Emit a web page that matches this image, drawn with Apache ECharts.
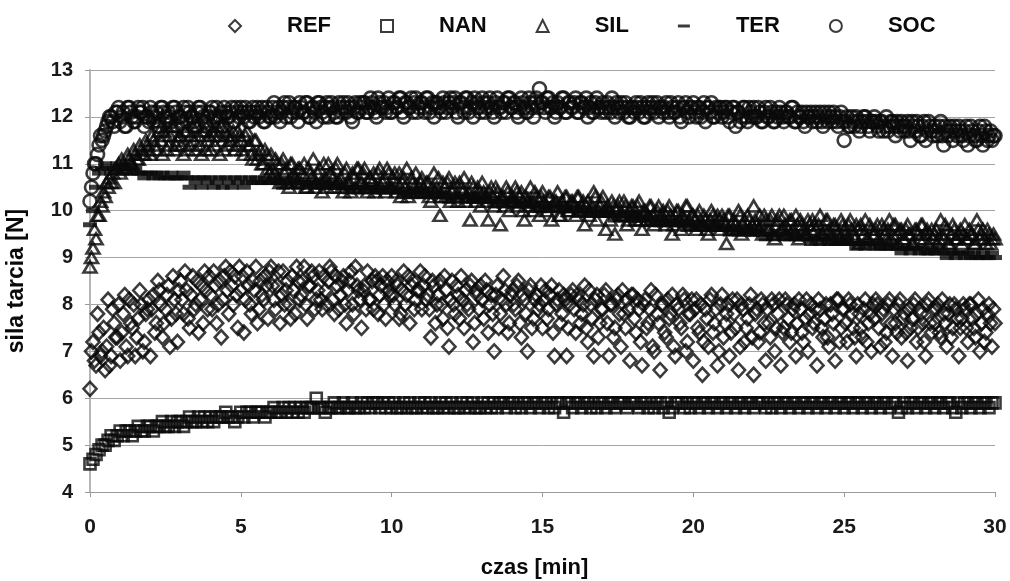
<!DOCTYPE html>
<html>
<head>
<meta charset="utf-8">
<script src="https://cdn.jsdelivr.net/npm/echarts@6/dist/echarts.min.js"></script>
<style>
html,body{margin:0;padding:0;background:#fff;}
#chart{width:1010px;height:581px;}
</style>
</head>
<body>
<div id="chart"></div>
<script>
// sampling interval of the measurement (min)
const SAMPLE_STEP = 0.1;

const seriesNames = ['REF', 'NAN', 'SIL', 'TER', 'SOC'];
const xTicks = [0, 5, 10, 15, 20, 25, 30];
const yTicks = [4, 5, 6, 7, 8, 9, 10, 11, 12, 13];

// REF readings at 0.0, 0.1, 0.2 ... min
const ref = [
6.2,7.2,6.7,7.4,7.0,6.6,8.1,6.9,7.6,7.3,
6.8,7.8,7.1,8.1,7.5,6.9,7.7,8.0,7.2,7.9,
6.9,8.2,7.6,8.3,7.3,7.9,8.4,7.7,8.1,7.2,
8.5,7.8,8.3,7.5,8.6,8.0,7.4,8.4,8.7,7.9,
8.2,8.7,7.6,8.5,8.1,8.8,7.8,8.4,8.6,7.5,
8.3,7.4,8.7,8.0,8.5,8.8,7.9,8.2,8.6,7.7,
8.8,8.1,8.4,7.6,8.7,8.3,8.0,8.6,7.8,8.5,
8.2,8.8,7.7,8.4,8.6,8.1,8.7,7.9,8.3,8.5,
8.7,7.8,8.4,8.2,8.6,7.6,8.5,8.0,8.8,8.3,
7.5,8.4,8.7,8.1,7.9,8.5,8.2,8.6,7.7,8.3,
8.6,8.0,8.4,7.8,8.7,8.2,7.6,8.5,8.1,8.3,
7.9,8.6,8.2,7.3,8.4,8.0,8.5,7.7,8.3,7.1,
8.5,7.8,8.2,8.6,7.5,8.0,8.4,7.2,8.3,7.9,
8.1,8.5,7.4,8.2,7.0,8.4,7.8,8.6,8.0,7.6,
8.3,7.9,8.5,7.3,8.1,7.0,8.4,7.7,8.2,8.0,
7.5,8.3,7.9,8.4,6.9,8.1,7.6,8.2,6.9,8.0,
8.3,7.4,8.1,7.8,8.4,7.2,8.0,6.9,8.2,7.6,
7.9,8.3,6.9,8.0,7.5,8.2,7.1,7.8,8.1,6.8,
8.2,7.4,7.9,6.7,8.1,7.6,8.3,7.0,7.8,6.6,
8.0,7.3,7.7,8.2,6.9,7.9,7.5,8.1,7.2,7.8,
6.8,8.1,7.4,6.5,7.9,7.1,8.2,7.6,6.7,8.0,
7.3,7.8,6.9,8.1,7.5,6.6,8.0,7.2,7.7,8.2,
6.5,7.9,7.4,8.0,6.8,7.6,8.1,7.0,7.8,6.7,
7.5,8.0,7.2,7.9,6.9,8.1,7.4,7.7,7.0,8.0,
7.6,6.7,7.9,7.3,8.0,7.1,7.8,6.8,8.1,7.5,
7.9,7.2,8.0,7.5,6.9,7.8,7.3,8.1,7.6,7.0,
7.7,8.0,7.1,7.9,7.4,8.1,6.9,7.6,8.0,7.3,
7.8,6.8,7.5,8.0,7.2,7.9,7.6,6.9,8.1,7.4,
7.6,8.0,7.3,7.8,7.1,8.0,7.5,7.9,6.9,7.7,
7.9,7.2,8.0,7.5,7.8,7.0,7.9,7.4,8.0,7.1,
7.6
];

// REF readings at 0.05, 0.15, 0.25 ... min
const refHalf = [
7.0,6.8,7.8,6.9,7.5,7.1,6.7,7.9,7.3,8.0,
7.4,8.2,6.9,7.6,8.0,7.3,8.3,7.0,7.8,8.1,
7.9,7.4,8.5,8.0,7.6,8.2,7.1,8.6,7.8,8.3,
8.1,8.7,7.7,8.2,7.9,8.5,8.1,7.6,8.3,8.6,
7.9,8.4,8.0,7.3,8.6,8.3,8.7,8.0,8.2,8.8,
8.6,8.1,8.4,7.8,8.3,7.6,8.5,8.1,8.4,8.7,
8.4,7.9,8.7,8.2,8.0,8.5,7.7,8.3,8.8,8.1,
8.5,8.0,8.4,8.7,7.9,8.3,8.1,8.6,8.0,8.8,
8.1,8.6,7.9,8.5,8.0,8.3,8.7,7.8,8.4,8.1,
8.3,7.9,8.1,8.5,8.6,7.8,8.4,8.0,8.5,8.2,
8.2,8.5,7.7,8.3,8.0,8.6,8.4,7.9,8.3,8.7,
8.4,8.1,7.9,8.5,7.6,8.2,8.0,8.6,7.5,8.1,
8.0,8.4,7.7,8.1,8.3,7.9,8.5,7.6,8.2,8.4,
7.7,8.3,8.0,7.8,8.2,7.5,8.1,8.3,7.4,8.2,
8.0,8.4,7.6,8.2,7.8,8.3,7.5,8.1,7.9,8.4,
8.1,7.7,8.2,7.4,8.0,8.3,7.8,8.1,7.5,8.2,
7.9,8.2,7.6,8.0,7.5,8.3,7.7,8.1,7.3,7.9,
8.2,7.6,8.0,7.3,8.1,7.8,8.3,7.5,7.9,8.2,
7.7,8.1,7.2,8.0,7.5,7.9,7.1,8.2,7.6,8.0,
7.4,8.1,7.8,7.1,8.0,7.6,8.2,7.0,7.8,8.1,
7.9,7.5,8.0,7.2,7.7,8.1,7.4,7.9,7.0,8.2,
7.6,8.0,7.4,7.8,8.1,7.1,7.9,7.5,8.0,7.3,
7.8,7.2,8.1,7.6,7.9,7.3,8.0,7.5,8.1,7.4,
8.1,7.7,7.4,8.0,7.6,7.9,7.2,8.1,7.8,7.5,
7.9,8.1,7.5,7.7,7.3,8.0,7.6,8.1,7.2,7.9,
7.6,8.1,7.8,7.3,8.0,7.5,7.9,7.2,7.8,8.0,
8.1,7.5,7.8,7.2,8.0,7.6,7.9,7.4,8.1,7.7,
7.4,7.9,7.7,8.1,7.5,7.8,7.2,8.0,7.6,7.9,
7.9,7.4,8.1,7.6,7.8,7.3,8.0,7.7,7.5,8.0,
7.5,8.0,7.7,7.3,8.1,7.6,7.2,7.8,7.6,7.9
];

const nan = [
4.6,4.7,4.8,4.9,5.0,5.0,5.1,5.2,5.1,5.2,
5.3,5.2,5.3,5.3,5.2,5.3,5.4,5.3,5.3,5.4,
5.4,5.3,5.4,5.4,5.5,5.4,5.4,5.5,5.4,5.5,
5.5,5.4,5.5,5.6,5.5,5.5,5.6,5.5,5.6,5.5,
5.6,5.5,5.6,5.6,5.6,5.7,5.6,5.6,5.5,5.6,
5.7,5.6,5.7,5.7,5.6,5.7,5.7,5.7,5.6,5.7,
5.7,5.8,5.7,5.7,5.8,5.7,5.8,5.7,5.8,5.7,
5.8,5.7,5.8,5.8,5.8,6.0,5.8,5.8,5.7,5.8,
5.8,5.9,5.8,5.8,5.9,5.8,5.8,5.9,5.8,5.8,
5.9,5.8,5.9,5.8,5.9,5.9,5.8,5.9,5.8,5.9,
5.8,5.9,5.8,5.8,5.9,5.8,5.9,5.8,5.8,5.9,
5.8,5.9,5.8,5.9,5.8,5.8,5.9,5.8,5.9,5.8,
5.9,5.8,5.8,5.9,5.8,5.9,5.8,5.9,5.8,5.8,
5.9,5.8,5.9,5.8,5.9,5.8,5.9,5.9,5.8,5.9,
5.9,5.8,5.9,5.8,5.9,5.9,5.8,5.9,5.9,5.8,
5.9,5.9,5.8,5.9,5.8,5.9,5.9,5.7,5.9,5.9,
5.8,5.9,5.9,5.8,5.9,5.9,5.8,5.9,5.8,5.9,
5.9,5.8,5.9,5.9,5.8,5.9,5.9,5.9,5.8,5.9,
5.9,5.9,5.8,5.9,5.9,5.8,5.9,5.8,5.9,5.9,
5.8,5.9,5.7,5.8,5.9,5.9,5.9,5.8,5.9,5.8,
5.9,5.9,5.8,5.9,5.9,5.8,5.9,5.9,5.8,5.9,
5.9,5.8,5.9,5.9,5.8,5.9,5.9,5.8,5.9,5.9,
5.8,5.9,5.9,5.9,5.8,5.9,5.8,5.9,5.9,5.8,
5.9,5.9,5.8,5.9,5.9,5.8,5.9,5.9,5.8,5.9,
5.9,5.8,5.9,5.9,5.8,5.9,5.9,5.8,5.9,5.9,
5.8,5.9,5.9,5.8,5.9,5.9,5.8,5.9,5.9,5.8,
5.9,5.9,5.8,5.9,5.9,5.8,5.9,5.9,5.7,5.8,
5.9,5.8,5.9,5.9,5.8,5.9,5.9,5.8,5.9,5.9,
5.8,5.9,5.9,5.8,5.9,5.9,5.8,5.7,5.9,5.8,
5.9,5.9,5.8,5.9,5.9,5.8,5.9,5.9,5.8,5.9,
5.9
];

// SIL readings at 0.0, 0.1, 0.2 ... min
const sil = [
8.8,9.2,9.4,9.9,10.1,10.3,10.5,10.6,10.6,10.9,
10.8,11.0,10.9,11.1,11.0,11.2,11.1,11.3,11.2,11.4,
11.2,11.5,11.3,11.7,11.2,11.6,11.4,11.8,11.3,11.5,
11.6,11.2,11.7,11.4,11.8,11.3,11.6,11.2,11.7,11.5,
11.3,11.6,11.8,11.2,11.5,11.7,11.4,11.6,11.3,11.7,
11.5,11.2,11.7,11.4,11.1,11.5,11.2,11.0,11.3,10.9,
11.2,10.8,11.0,10.6,11.1,10.9,10.5,11.0,10.7,10.9,
10.6,11.0,10.5,10.8,11.1,10.6,10.9,10.4,10.7,11.0,
10.8,10.5,11.0,10.7,10.4,10.9,10.6,10.8,10.5,10.9,
10.6,10.9,10.4,10.7,10.8,10.5,10.9,10.6,10.4,10.8,
10.5,10.8,10.6,10.3,10.7,10.9,10.4,10.6,10.8,10.5,
10.7,10.4,10.6,10.2,10.8,10.5,9.9,10.6,10.3,10.7,
10.4,10.6,10.2,10.5,10.7,10.3,9.8,10.5,10.2,10.4,
10.6,10.3,9.8,10.5,10.1,10.4,9.7,10.3,10.5,10.0,
10.3,10.5,10.1,10.4,9.8,10.2,10.5,10.0,10.3,9.9,
10.4,10.1,10.3,9.8,10.2,10.4,9.9,10.1,10.3,10.0,
10.2,9.9,10.3,10.1,9.7,10.2,10.0,10.4,9.8,10.1,
10.3,9.6,10.0,10.2,9.5,10.1,9.9,10.2,9.7,10.0,
10.1,9.8,10.2,9.6,10.0,9.9,10.1,9.7,10.0,9.8,
10.0,9.7,10.1,9.5,9.9,10.0,9.6,9.8,10.1,9.7,
9.9,9.6,10.0,9.7,9.8,9.5,10.0,9.7,9.9,9.6,
9.8,9.3,9.9,9.6,9.7,10.0,9.5,9.8,9.9,9.6,
10.1,9.7,9.9,9.5,9.8,9.6,9.9,9.4,9.8,9.6,
9.9,9.5,9.8,9.6,9.9,9.4,9.7,9.5,9.8,9.6,
9.7,9.4,9.9,9.5,9.8,9.6,9.4,9.7,9.5,9.8,
9.6,9.4,9.8,9.5,9.7,9.3,9.6,9.8,9.4,9.6,
9.5,9.7,9.3,9.6,9.4,9.8,9.5,9.7,9.3,9.6,
9.4,9.7,9.5,9.3,9.6,9.4,9.7,9.5,9.3,9.6,
9.5,9.3,9.8,9.4,9.6,9.3,9.7,9.4,9.5,9.3,
9.7,9.4,9.5,9.3,9.8,9.4,9.6,9.3,9.5,9.4,
9.4
];

// SIL readings at 0.05, 0.15, 0.25 ... min
const silHalf = [
9.0,9.6,9.9,10.2,10.4,10.6,10.7,10.8,10.9,11.0,
11.1,10.9,11.2,11.0,11.3,11.1,11.4,11.2,11.5,11.3,
11.6,11.4,11.9,11.5,11.7,11.3,11.6,11.8,11.4,11.6,
11.4,11.7,11.3,11.6,11.5,11.8,11.4,11.7,11.3,11.6,
11.7,11.4,11.6,11.8,11.3,11.6,11.5,11.7,11.4,11.6,
11.3,11.6,11.4,11.2,11.5,11.1,11.3,11.0,11.2,10.8,
10.9,11.1,10.7,11.0,10.8,10.6,11.0,10.8,10.6,10.9,
10.8,10.5,10.9,10.7,10.5,10.8,10.6,11.0,10.5,10.8,
10.7,10.9,10.6,10.5,10.8,10.6,10.4,10.7,10.9,10.6,
10.8,10.5,10.7,10.6,10.4,10.8,10.5,10.7,10.9,10.5,
10.7,10.4,10.8,10.6,10.5,10.3,10.7,10.5,10.4,10.6,
10.5,10.6,10.3,10.5,10.4,10.7,10.3,10.5,10.6,10.2,
10.5,10.3,10.6,10.4,10.2,10.4,10.6,10.3,10.5,10.1,
10.4,10.2,10.4,10.3,10.5,10.2,10.3,10.1,10.4,10.2,
10.2,10.4,10.3,10.0,10.3,10.1,10.2,10.4,10.1,10.3,
10.2,10.0,10.3,10.1,10.2,9.9,10.2,10.3,10.0,10.2,
10.1,10.3,10.0,10.2,10.1,9.9,10.1,10.3,10.0,10.2,
10.0,10.1,9.8,10.1,10.0,10.2,9.9,10.1,9.8,10.1,
9.9,10.1,9.8,10.0,9.8,10.1,9.9,9.8,10.1,9.9,
9.8,10.0,9.9,9.7,10.0,9.8,9.9,10.1,9.8,9.9,
9.8,9.9,9.7,9.9,9.6,9.8,9.9,9.7,9.8,9.9,
9.7,9.9,9.7,9.8,9.6,9.9,9.7,9.6,9.8,9.7,
9.8,9.6,9.7,9.9,9.6,9.8,9.5,9.7,9.9,9.6,
9.7,9.6,9.8,9.5,9.7,9.8,9.6,9.5,9.7,9.8,
9.6,9.7,9.5,9.6,9.8,9.5,9.7,9.6,9.4,9.7,
9.5,9.7,9.6,9.4,9.6,9.7,9.5,9.4,9.7,9.5,
9.6,9.4,9.7,9.5,9.6,9.4,9.7,9.5,9.6,9.4,
9.6,9.5,9.3,9.6,9.5,9.7,9.4,9.6,9.5,9.4,
9.6,9.4,9.5,9.7,9.3,9.5,9.6,9.4,9.6,9.5,
9.4,9.6,9.5,9.3,9.6,9.5,9.4,9.6,9.3,9.5
];

const ter = [
9.7,10.0,10.5,10.8,10.9,11.0,10.9,10.8,10.9,11.0,
10.9,10.8,10.9,10.9,10.8,10.9,10.8,10.8,10.7,10.8,
10.8,10.7,10.8,10.7,10.8,10.7,10.7,10.8,10.7,10.7,
10.7,10.8,10.7,10.5,10.7,10.6,10.7,10.5,10.7,10.6,
10.7,10.5,10.6,10.7,10.5,10.7,10.6,10.5,10.7,10.6,
10.7,10.5,10.6,10.7,10.6,10.7,10.6,10.6,10.7,10.6,
10.6,10.7,10.6,10.6,10.5,10.6,10.7,10.6,10.6,10.5,
10.6,10.6,10.5,10.6,10.6,10.5,10.6,10.5,10.6,10.5,
10.6,10.5,10.5,10.6,10.5,10.5,10.4,10.5,10.5,10.4,
10.5,10.4,10.5,10.5,10.4,10.5,10.4,10.4,10.5,10.4,
10.4,10.5,10.4,10.4,10.3,10.4,10.4,10.3,10.4,10.4,
10.3,10.4,10.3,10.4,10.3,10.3,10.4,10.3,10.3,10.2,
10.3,10.3,10.2,10.3,10.3,10.2,10.3,10.2,10.3,10.2,
10.2,10.3,10.2,10.2,10.1,10.2,10.2,10.1,10.2,10.2,
10.1,10.2,10.1,10.2,10.1,10.1,10.2,10.1,10.1,10.0,
10.1,10.1,10.0,10.1,10.1,10.0,10.1,10.0,10.0,10.1,
10.0,10.0,9.9,10.0,10.0,9.9,10.0,9.9,10.0,9.9,
9.9,10.0,9.9,9.9,9.8,9.9,9.9,9.8,9.9,9.9,
9.8,9.9,9.8,9.8,9.9,9.8,9.7,9.8,9.8,9.7,
9.8,9.7,9.8,9.7,9.7,9.8,9.7,9.7,9.6,9.7,
9.7,9.6,9.7,9.7,9.6,9.7,9.6,9.6,9.7,9.6,
9.6,9.6,9.5,9.6,9.6,9.5,9.6,9.5,9.6,9.5,
9.5,9.6,9.5,9.5,9.4,9.5,9.5,9.4,9.5,9.5,
9.4,9.5,9.4,9.5,9.4,9.4,9.5,9.4,9.4,9.3,
9.4,9.4,9.3,9.4,9.4,9.3,9.4,9.3,9.3,9.4,
9.3,9.4,9.3,9.3,9.2,9.3,9.3,9.2,9.3,9.3,
9.2,9.3,9.2,9.3,9.2,9.2,9.3,9.2,9.2,9.1,
9.2,9.2,9.1,9.2,9.2,9.1,9.2,9.1,9.1,9.2,
9.1,9.1,9.2,9.1,9.0,9.1,9.1,9.0,9.1,9.1,
9.0,9.1,9.0,9.1,9.0,9.0,9.1,9.0,9.0,9.1,
9.0
];

// SOC readings at 0.0, 0.1, 0.2 ... min
const soc = [
10.2,10.8,11.0,11.4,11.5,11.7,11.9,12.0,11.8,12.1,
11.9,12.1,11.8,12.2,12.0,11.9,12.2,12.1,11.8,12.0,
12.2,11.9,12.1,11.8,12.2,12.0,12.1,11.9,12.2,11.8,
12.0,12.2,11.9,12.1,12.0,11.8,12.2,12.1,11.9,12.0,
12.1,11.9,12.2,12.0,11.8,12.1,12.0,12.2,11.9,12.1,
12.2,12.0,12.1,11.9,12.2,12.1,12.0,12.2,11.9,12.1,
12.0,12.3,12.1,11.9,12.2,12.0,12.3,12.1,12.2,11.9,
12.2,12.1,12.3,12.0,12.2,11.9,12.3,12.1,12.2,12.0,
12.3,12.1,12.0,12.2,12.3,12.1,12.2,11.9,12.3,12.1,
12.2,12.3,12.1,12.4,12.2,12.0,12.3,12.2,12.1,12.4,
12.1,12.3,12.2,12.4,12.0,12.3,12.2,12.1,12.4,12.2,
12.3,12.1,12.4,12.2,12.0,12.3,12.2,12.4,12.1,12.3,
12.2,12.4,12.0,12.3,12.1,12.4,12.2,12.0,12.3,12.2,
12.4,12.1,12.3,12.2,12.0,12.4,12.2,12.3,12.1,12.4,
12.2,12.3,12.0,12.4,12.2,12.1,12.3,12.0,12.4,12.6,
12.3,12.1,12.4,12.2,12.0,12.3,12.2,12.4,12.1,12.3,
12.2,12.4,12.1,12.3,12.2,12.0,12.3,12.1,12.4,12.2,
12.3,12.1,12.2,12.4,12.0,12.2,12.3,12.1,12.2,12.0,
12.2,12.3,12.1,12.2,12.0,12.3,12.2,12.1,12.3,12.2,
12.1,12.3,12.0,12.2,12.1,12.3,11.9,12.2,12.1,12.2,
12.3,12.0,12.2,12.1,11.9,12.2,12.3,12.0,12.1,12.2,
12.1,12.2,11.9,12.2,11.8,12.1,12.0,12.2,11.9,12.1,
12.2,12.0,12.1,11.9,12.2,12.0,12.1,11.9,12.0,12.1,
11.9,12.1,12.0,12.2,11.9,12.0,12.1,11.8,12.0,12.1,
12.0,11.9,12.1,11.8,12.0,12.1,11.9,12.0,11.8,12.1,
11.5,12.0,11.8,11.9,12.0,11.7,11.9,12.0,11.8,11.9,
12.0,11.8,11.9,11.7,12.0,11.8,11.9,11.6,11.8,11.9,
11.7,11.9,11.5,11.8,11.9,11.6,11.8,11.5,11.9,11.7,
11.8,11.6,11.9,11.4,11.7,11.8,11.5,11.7,11.8,11.6,
11.7,11.4,11.8,11.6,11.5,11.8,11.4,11.7,11.6,11.5,
11.6
];

// SOC readings at 0.05, 0.15, 0.25 ... min
const socHalf = [
10.5,11.0,11.2,11.6,11.6,11.8,12.0,11.9,12.1,12.2,
12.0,11.8,12.2,12.1,11.9,12.0,12.1,12.2,12.0,11.9,
12.1,12.0,11.8,12.2,12.1,11.9,12.0,12.2,12.1,12.0,
11.9,12.1,12.2,12.0,11.9,12.1,12.2,12.0,11.8,12.1,
12.2,12.0,11.9,12.1,12.2,12.0,12.1,11.9,12.2,12.0,
12.1,12.2,11.9,12.1,12.0,12.2,12.1,11.9,12.2,12.0,
12.2,12.0,12.2,12.1,12.3,12.2,12.0,12.2,12.1,12.3,
12.1,12.3,12.0,12.2,12.1,12.3,12.2,12.0,12.3,12.2,
12.2,12.0,12.3,12.1,12.2,12.3,12.0,12.2,12.1,12.3,
12.3,12.1,12.2,12.3,12.1,12.4,12.2,12.3,12.2,12.1,
12.3,12.2,12.4,12.1,12.3,12.2,12.4,12.3,12.1,12.3,
12.2,12.4,12.1,12.3,12.3,12.2,12.1,12.3,12.2,12.4,
12.3,12.1,12.3,12.2,12.4,12.1,12.3,12.4,12.2,12.1,
12.3,12.2,12.4,12.1,12.3,12.2,12.1,12.3,12.4,12.2,
12.3,12.1,12.2,12.3,12.1,12.4,12.2,12.3,12.2,12.3,
12.2,12.4,12.2,12.3,12.1,12.2,12.4,12.1,12.3,12.2,
12.3,12.1,12.3,12.2,12.4,12.2,12.1,12.3,12.2,12.1,
12.2,12.3,12.1,12.2,12.3,12.1,12.2,12.3,12.0,12.2,
12.1,12.2,12.3,12.0,12.2,12.1,12.3,12.2,12.0,12.2,
12.2,12.1,12.3,12.1,12.2,12.0,12.2,12.3,12.0,12.2,
12.1,12.2,12.0,12.3,12.2,12.1,12.0,12.2,12.2,12.0,
12.2,12.0,12.1,12.2,12.1,11.9,12.2,12.0,12.2,12.0,
12.0,12.2,11.9,12.1,12.0,12.2,11.9,12.1,12.2,12.0,
12.1,12.0,12.2,11.9,12.1,12.0,11.9,12.1,12.0,11.9,
12.1,12.0,11.9,12.1,11.9,12.0,12.1,11.9,12.0,11.9,
11.9,11.8,12.0,11.8,11.9,11.8,12.0,11.9,11.7,11.9,
11.9,11.7,11.9,11.8,11.7,11.9,11.8,11.9,11.7,11.8,
11.8,11.7,11.9,11.7,11.8,11.6,11.9,11.7,11.8,11.6,
11.7,11.8,11.6,11.8,11.6,11.7,11.8,11.6,11.7,11.5,
11.8,11.6,11.7,11.5,11.7,11.6,11.8,11.5,11.7,11.6
];

function pairs(values, offset) {
  return values.map(function (v, i) { return [+(i * SAMPLE_STEP + offset).toFixed(2), v]; });
}

const INK = '#0a0a0a';
const FONT = '"Liberation Sans", Arial, sans-serif';
const hollow = { color: 'rgba(0,0,0,0)', borderColor: INK, borderWidth: 2.6 };
const noHover = { disabled: true };

const chart = echarts.init(document.getElementById('chart'), null, { renderer: 'canvas' });

chart.setOption({
  backgroundColor: '#ffffff',
  animation: false,
  textStyle: { fontFamily: FONT },
  legend: {
    left: 223,
    top: 10,
    itemWidth: 12,
    itemHeight: 12,
    itemGap: 49,
    textStyle: { fontSize: 22, fontWeight: 'bold', color: INK, fontFamily: FONT, padding: [0, 0, 0, 41] },
    data: [
      { name: seriesNames[0], icon: 'diamond' },
      { name: seriesNames[1], icon: 'rect' },
      { name: seriesNames[2], icon: 'triangle' },
      { name: seriesNames[3], icon: 'path://M0,0M12,12M0,4.5H12V7.5H0Z' },
      { name: seriesNames[4], icon: 'circle' }
    ],
    selectedMode: false
  },
  grid: { left: 90, right: 15, top: 70, bottom: 89, containLabel: false, outerBoundsMode: 'none' },
  xAxis: {
    type: 'value',
    min: xTicks[0],
    max: xTicks[xTicks.length - 1],
    interval: 5,
    name: 'czas [min]',
    nameLocation: 'middle',
    nameGap: 65,
    nameTextStyle: { fontSize: 22, fontWeight: 'bold', color: INK, fontFamily: FONT, padding: [0, 16, 0, 0] },
    axisLine: { show: true, lineStyle: { color: '#9a9a9a', width: 1 } },
    axisTick: { show: true, length: 5, inside: false, lineStyle: { color: '#9a9a9a' } },
    axisLabel: { fontSize: 21, fontWeight: 'bold', color: '#1a1a1a', margin: 25, fontFamily: FONT },
    splitLine: { show: false }
  },
  yAxis: {
    type: 'value',
    min: yTicks[0],
    max: yTicks[yTicks.length - 1],
    interval: 1,
    name: 'sila tarcia [N]',
    nameLocation: 'middle',
    nameGap: 62,
    nameTextStyle: { fontSize: 23, fontWeight: 'bold', color: INK, fontFamily: FONT },
    axisLine: { show: true, lineStyle: { color: '#b5b5b5', width: 2 } },
    axisTick: { show: true, length: 5, lineStyle: { color: '#9a9a9a' } },
    axisLabel: { fontSize: 20, fontWeight: 'bold', color: '#1a1a1a', margin: 17, fontFamily: FONT },
    splitLine: { show: true, lineStyle: { color: '#a5a5a5', width: 1 } }
  },
  series: [
    { name: seriesNames[0], type: 'scatter', symbol: 'diamond', symbolSize: [13, 14], itemStyle: hollow,
      data: pairs(ref, 0).concat(pairs(refHalf, 0.05)), emphasis: noHover },
    { name: seriesNames[1], type: 'scatter', symbol: 'rect', symbolSize: [11, 11], itemStyle: hollow,
      data: pairs(nan, 0), emphasis: noHover },
    { name: seriesNames[2], type: 'scatter', symbol: 'triangle', symbolSize: [13, 11], itemStyle: hollow,
      data: pairs(sil, 0).concat(pairs(silHalf, 0.05)), emphasis: noHover },
    { name: seriesNames[3], type: 'scatter', symbol: 'rect', symbolSize: [14, 5], itemStyle: { color: INK },
      data: pairs(ter, 0), emphasis: noHover },
    { name: seriesNames[4], type: 'scatter', symbol: 'circle', symbolSize: [13, 13], itemStyle: hollow,
      data: pairs(soc, 0).concat(pairs(socHalf, 0.05)), emphasis: noHover }
  ]
});
</script>
</body>
</html>
